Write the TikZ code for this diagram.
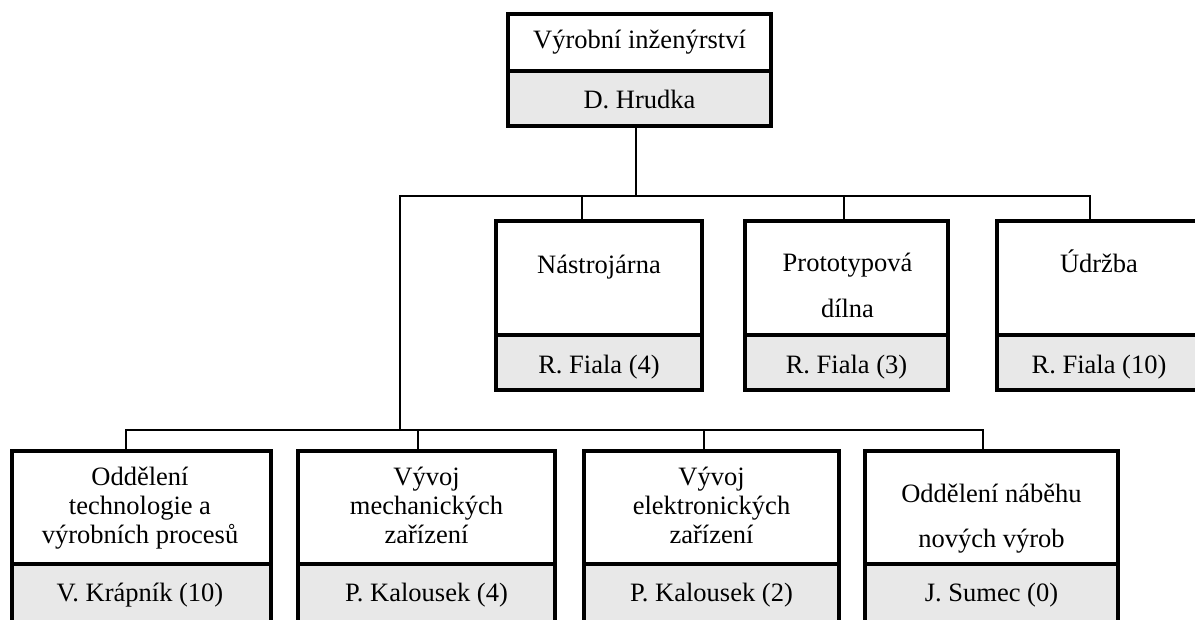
\documentclass[tikz,border=0pt]{standalone}
\usepackage{fontspec}
\setmainfont{Liberation Serif}
\definecolor{cellgray}{RGB}{232,232,232}

% stacked lines with a given line pitch, baseline of the first line on the node base
\newcommand\orgrows[2]{{\fontsize{26.5}{#1}\selectfont\begin{tabular}[t]{@{}c@{}}#2\end{tabular}}}
% one rectangular cell: style, name, x1, y1, x2, y2
\newcommand\orgcell[6]{%
  \node[#1, minimum width={#5-#3}, minimum height={#6-#4}] (#2) at ({(#3+#5)/2},{(#4+#6)/2}) {};}

\tikzset{
  cellbase/.style={inner sep=0pt, outer sep=0pt, rectangle},
  frame/.style={cellbase, draw=black, line width=3.6pt},
  head/.style={frame, fill=white},
  staff/.style={frame, fill=cellgray},
  border/.style={draw=black, line width=3.6pt},
  conn/.style={draw=black, line width=1.7pt, line cap=rect},
  label/.style={inner sep=0pt, anchor=base, font=\fontsize{26.5}{30}\selectfont},
}

\begin{document}
\begin{tikzpicture}[x=1pt, y=-1pt]
\useasboundingbox (0,0) rectangle (1195,619);
\fill[white] (0,0) rectangle (1195,619);

% junction points of the two buses
\coordinate (busA) at (400,196);
\coordinate (busB) at (1090,196);
\coordinate (busC) at (126,430);
\coordinate (busD) at (983,430);

% cells
\orgcell{head}{vi-h}{508}{14}{771}{71}
\orgcell{staff}{vi-s}{508}{71}{771}{126}

\orgcell{head}{nast-h}{496}{221}{702}{335}
\orgcell{staff}{nast-s}{496}{335}{702}{390}
\orgcell{head}{proto-h}{745}{221}{948}{335}
\orgcell{staff}{proto-s}{745}{335}{948}{390}
% the rightmost unit is cut by the page edge: no right side
\orgcell{cellbase, fill=white}{udr-h}{997}{221}{1201}{335}
\orgcell{cellbase, fill=cellgray}{udr-s}{997}{335}{1201}{390}
\draw[border] (udr-h.north east) -- (udr-h.north west) -- (udr-s.south west) -- (udr-s.south east);
\draw[border] (udr-h.south west) -- (udr-h.south east);

% lower row, cut by the bottom page edge
\orgcell{head}{tech-h}{12}{451}{271}{564}
\orgcell{staff}{tech-s}{12}{564}{271}{622}
\orgcell{head}{mech-h}{298}{451}{555}{564}
\orgcell{staff}{mech-s}{298}{564}{555}{622}
\orgcell{head}{elek-h}{584}{451}{839}{564}
\orgcell{staff}{elek-s}{584}{564}{839}{622}
\orgcell{head}{nab-h}{865}{451}{1118}{564}
\orgcell{staff}{nab-s}{865}{564}{1118}{622}

% connectors
\draw[conn] ([xshift=-3.5pt]vi-s.south) -- ([xshift=-3.5pt]vi-s.south |- busA);
\draw[conn] (busA) -- (busB);
\draw[conn] ([xshift=-17pt]nast-h.north) -- ([xshift=-17pt]nast-h.north |- busA);
\draw[conn] ([xshift=-2.5pt]proto-h.north) -- ([xshift=-2.5pt]proto-h.north |- busA);
\draw[conn] (busB) -- (busB |- udr-h.north);
\draw[conn] (busA) -- (busA |- busC);
\draw[conn] (busC) -- (busD);
\draw[conn] (busC) -- (busC |- tech-h.north);
\draw[conn] ([xshift=-8.5pt]mech-h.north) -- ([xshift=-8.5pt]mech-h.north |- busC);
\draw[conn] ([xshift=-7.5pt]elek-h.north) -- ([xshift=-7.5pt]elek-h.north |- busC);
\draw[conn] (busD) -- (busD |- nab-h.north);

% texts
\node[label] (vi-t) at (639.5,48) {Výrobní inženýrství};
\node[label] (vi-p) at (639.5,108) {D. Hrudka};

\node[label] (nast-t) at (599,273) {Nástrojárna};
\node[label] (nast-p) at (599,373) {R. Fiala (4)};
\node[label] (proto-t) at (847.5,271) {\orgrows{46}{Prototypová\\dílna}};
\node[label] (proto-p) at (846.5,373) {R. Fiala (3)};
\node[label] (udr-t) at (1099,272) {Údržba};
\node[label] (udr-p) at (1099,373) {R. Fiala (10)};

\node[label] (tech-t) at (140,485) {\orgrows{29}{Oddělení\\technologie a\\výrobních procesů}};
\node[label] (tech-p) at (140,601) {V. Krápník (10)};
\node[label] (mech-t) at (426.5,485) {\orgrows{29}{Vývoj\\mechanických\\zařízení}};
\node[label] (mech-p) at (426.5,601) {P. Kalousek (4)};
\node[label] (elek-t) at (711.5,485) {\orgrows{29}{Vývoj\\elektronických\\zařízení}};
\node[label] (elek-p) at (711.5,601) {P. Kalousek (2)};
\node[label] (nab-t) at (991.5,502) {\orgrows{45}{Oddělení náběhu\\nových výrob}};
\node[label] (nab-p) at (991.5,601) {J. Sumec (0)};
\end{tikzpicture}
\end{document}
